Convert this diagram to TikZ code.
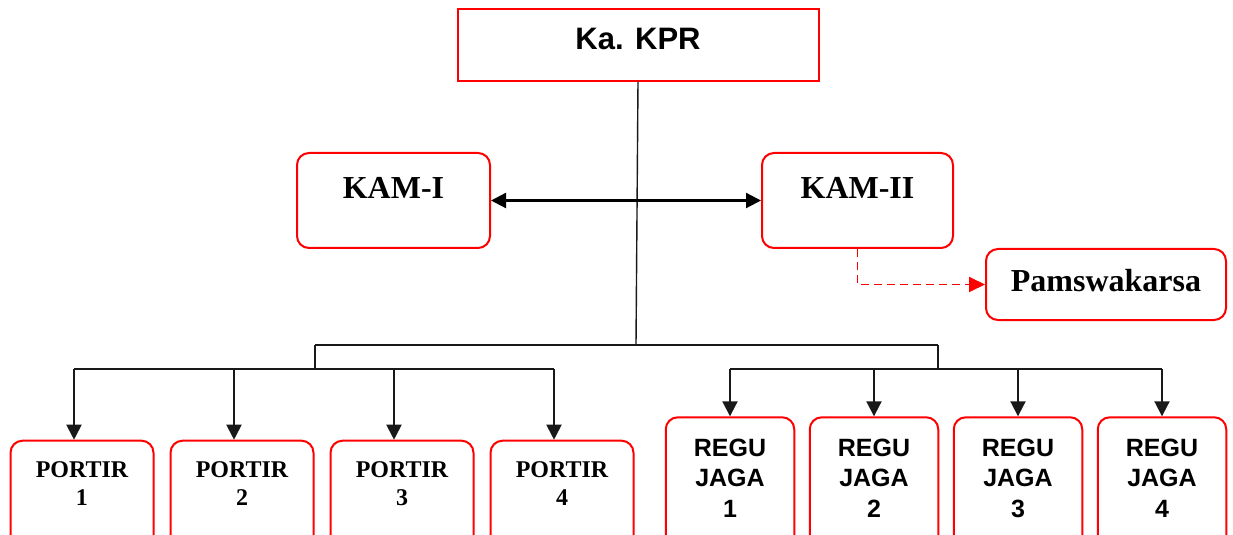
\documentclass[tikz,border=0pt]{standalone}
\usepackage{fontspec}
\setmainfont{Liberation Serif}
\newfontfamily\arialfont{Liberation Sans}
\usetikzlibrary{arrows.meta}
\definecolor{boxred}{rgb}{1.00,0.00,0.00}
\definecolor{linegray}{rgb}{0.10,0.10,0.10}

\begin{document}
\begin{tikzpicture}[x=0.5pt,y=-0.5pt,
   box/.style={draw=boxred,line width=1pt,rounded corners=6pt,anchor=base,
     inner xsep=0pt,inner ysep=0pt,text=black},
   portir/.style={box,minimum width=71.5pt,text height=18.3pt,text depth=42pt,
     font=\bfseries\fontsize{12}{14}\selectfont},
   regu/.style={box,minimum width=64.25pt,text height=19.35pt,text depth=52pt,
     font=\arialfont\bfseries\fontsize{12.5}{15.4}\selectfont},
   line/.style={draw=linegray,line width=1pt},
   link/.style={line,-{Triangle[width=7.5pt,length=7.5pt]}},
   both/.style={draw=black,line width=1.1pt,{Triangle[width=7.5pt,length=7.5pt]}-{Triangle[width=7.5pt,length=7.5pt]}},
   aux/.style={draw=boxred,line width=0.9pt,dash pattern=on 4pt off 2.5pt,
     -{Triangle[width=7.5pt,length=8pt]}}]
  \useasboundingbox (0,0) rectangle (1233,535);
  \clip (0,0) rectangle (1233,535);

  \node[box,sharp corners,minimum width=180.5pt,text height=20.5pt,text depth=15.3pt,
        font=\arialfont\bfseries\fontsize{15.5}{18}\selectfont] (kpr) at (638,50) {Ka. KPR};
  \node[box,minimum width=96.5pt,text height=22.65pt,text depth=24.85pt,
        font=\bfseries\fontsize{16}{19}\selectfont] (kam1) at (393.5,198.3) {KAM-I};
  \node[box,minimum width=95.5pt,text height=22.65pt,text depth=24.85pt,
        font=\bfseries\fontsize{16}{19}\selectfont] (kam2) at (857.5,198.3) {KAM-II};
  \node[box,minimum width=120pt,text height=21.35pt,text depth=14.15pt,
        font=\bfseries\fontsize{16}{19}\selectfont] (pams) at (1106,291.7) {Pamswakarsa};

  \foreach \i/\x in {1/82,2/242,3/402,4/562}
    \node[portir] (p\i) at (\x,477.3) {\begin{tabular}[t]{@{}c@{}}PORTIR\\\i\end{tabular}};
  \foreach \i/\x in {1/730,2/874,3/1018,4/1162}
    \node[regu] (r\i) at (\x,456) {\begin{tabular}[t]{@{}c@{}}REGU\\JAGA\\\i\end{tabular}};

  % tree lines
  \coordinate (hub) at (636,345);
  \coordinate (lbr) at (315,345);
  \coordinate (rbr) at (938,345);
  \foreach \i/\x in {1/74,2/234,3/394,4/554}
    \coordinate (pa\i) at (\x,369);
  \foreach \i/\x in {1/730,2/874,3/1018,4/1162}
    \coordinate (ra\i) at (\x,369);

  \draw[line,line width=0.7pt] (kpr.south) -- (hub);
  \draw[line] (lbr) -- (rbr);
  \draw[line] (lbr) -- (lbr |- pa1);
  \draw[line] (rbr) -- (rbr |- ra1);
  \draw[line] (pa1) -- (pa4);
  \draw[line] (ra1) -- (ra4);
  \foreach \i in {1,...,4} {
    \draw[link] (pa\i) -- (pa\i |- p\i.north);
    \draw[link] (ra\i) -- (ra\i |- r\i.north);
  }

  \draw[both] (kam1.east) -- (kam2.west);
  \draw[aux] (kam2.south) |- (pams.west);
\end{tikzpicture}
\end{document}
